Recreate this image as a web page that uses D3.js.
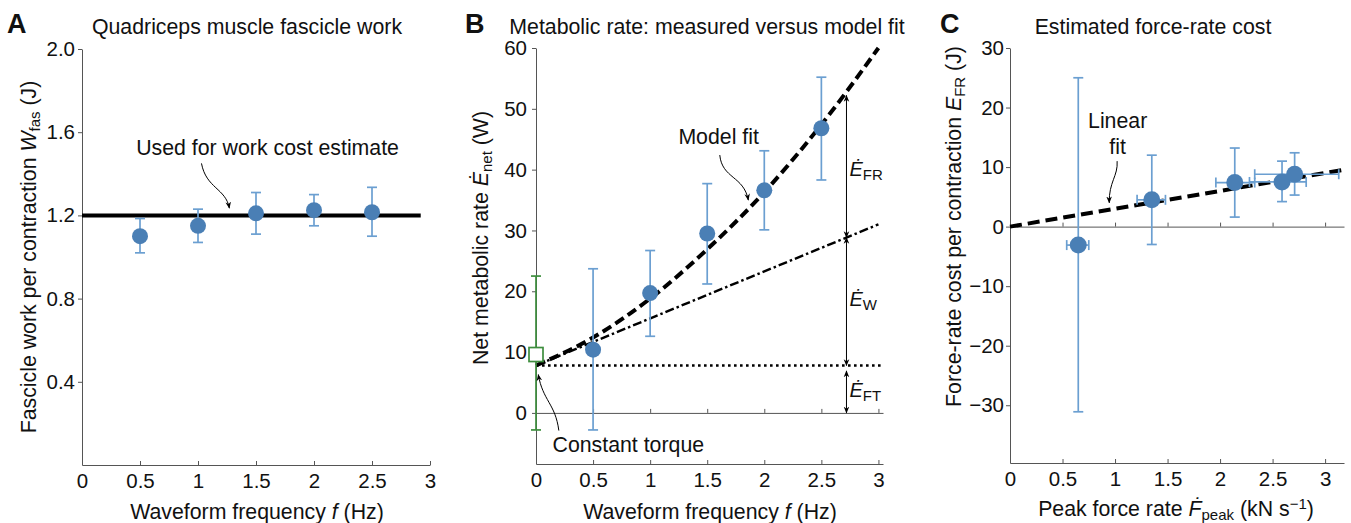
<!DOCTYPE html>
<html>
<head>
<meta charset="utf-8">
<script src="https://cdn.jsdelivr.net/npm/d3@7"></script>
<style>
  body { margin: 0; background: #fff; }
  svg text { font-family: "Liberation Sans", Arial, sans-serif; fill: #111; }
</style>
</head>
<body>
<div id="chart"></div>
<script>
// ---- panel A: fascicle work per contraction
const freqA = [0.5, 1, 1.5, 2, 2.5];
const workA = [1.10, 1.15, 1.21, 1.225, 1.215];
const workLoA = [1.02, 1.07, 1.11, 1.15, 1.10];
const workHiA = [1.185, 1.23, 1.31, 1.30, 1.335];
const workCostLevel = 1.2;
const workCostSpan = [0, 2.92];
const ticksYA = [0.4, 0.8, 1.2, 1.6, 2.0];
const ticksX = [0, 0.5, 1, 1.5, 2, 2.5, 3];

// ---- panel B: metabolic rate, measured vs model fit
const freqB = [0.5, 1, 1.5, 2, 2.5];
const metB = [10.4, 19.7, 29.5, 36.6, 46.8];
const metLoB = [-2.8, 12.6, 21.2, 30.1, 38.3];
const metHiB = [23.7, 26.7, 37.7, 43.1, 55.2];
const torqueMet = [9.6];
const torqueLo = [-2.8];
const torqueHi = [22.5];
const fitFreq = [0, 0.5, 1, 1.5, 2, 2.5, 3];
const fitModel = [7.8, 12.4, 18.8, 26.9, 36.3, 47.4, 60];
const workFreq = [0, 3];
const workLine = [7.8, 31.0];
const torqueLineSpan = [0, 3.04];
const torqueLine = 7.8;
const ticksYB = [0, 10, 20, 30, 40, 50, 60];

// ---- panel C: force-rate cost
const rateC = [0.65, 1.35, 2.14, 2.59, 2.71];
const rateLoC = [0.54, 1.21, 1.96, 2.28, 2.33];
const rateHiC = [0.75, 1.48, 2.33, 2.82, 3.13];
const costC = [-3.1, 4.5, 7.4, 7.5, 8.8];
const costLoC = [-31.1, -3.0, 1.6, 4.2, 5.3];
const costHiC = [25.0, 12.0, 13.2, 11.0, 12.4];
const linFitX = [0, 3.2];
const linFitY = [0, 9.6];
const ticksYC = [-30, -20, -10, 0, 10, 20, 30];

const dotFill = "#4a7fb5";
const errColor = "#6b9fd1";
const green = "#3e8e3e";
const axisColor = "#555";
const labelSize = 21.3;
const subSize = 15;

const svg = d3.select("#chart").append("svg")
  .attr("width", 1351).attr("height", 523);

const defs = svg.append("defs");
defs.append("marker")
  .attr("id", "head")
  .attr("viewBox", "0 0 10 10")
  .attr("refX", 9).attr("refY", 5)
  .attr("markerWidth", 7).attr("markerHeight", 7)
  .attr("markerUnits", "userSpaceOnUse")
  .attr("orient", "auto-start-reverse")
  .append("path").attr("d", "M0,1 L10,5 L0,9 L3,5 Z").attr("fill", "#000");

function styleAxis(g) {
  g.selectAll("path, line").attr("stroke", axisColor).attr("stroke-width", 1);
  g.selectAll("text").attr("font-size", 20.5).attr("fill", "#111")
    .attr("font-family", "Liberation Sans, Arial, sans-serif");
}

function fmtX(d) { return d3.format("~g")(d); }

function panelTitle(letter, lx, title, tx) {
  svg.append("text").attr("x", lx).attr("y", 33).attr("font-size", 27)
    .attr("font-weight", "bold").text(letter);
  svg.append("text").attr("x", tx).attr("y", 34).attr("font-size", labelSize)
    .attr("text-anchor", "middle").text(title);
}

function errBars(g, xs, lo, hi, x, y, color, cap) {
  xs.forEach((v, i) => {
    g.append("line").attr("x1", x(v)).attr("x2", x(v)).attr("y1", y(lo[i])).attr("y2", y(hi[i]))
      .attr("stroke", color).attr("stroke-width", 1.7);
    [lo[i], hi[i]].forEach(e => {
      g.append("line").attr("x1", x(v) - cap).attr("x2", x(v) + cap).attr("y1", y(e)).attr("y2", y(e))
        .attr("stroke", color).attr("stroke-width", 1.7);
    });
  });
}

function curvedArrow(from, mid1, mid2, to) {
  svg.append("path")
    .attr("d", `M${from[0]},${from[1]} C${mid1[0]},${mid1[1]} ${mid2[0]},${mid2[1]} ${to[0]},${to[1]}`)
    .attr("fill", "none").attr("stroke", "#000").attr("stroke-width", 1)
    .attr("marker-end", "url(#head)");
}

function freqLabel(cx) {
  svg.append("text").attr("x", cx).attr("y", 519).attr("font-size", labelSize).attr("text-anchor", "middle")
    .call(t => {
      t.append("tspan").text("Waveform frequency ");
      t.append("tspan").attr("font-style", "italic").text("f");
      t.append("tspan").text(" (Hz)");
    });
}

// ================= Panel A
(function () {
  const x = d3.scaleLinear().domain([0, 3]).range([82, 430]);
  const y = d3.scaleLinear().domain([0, 2]).range([465, 49]);

  panelTitle("A", 7, "Quadriceps muscle fascicle work", 247);

  svg.append("g").attr("transform", "translate(82,0)")
    .call(d3.axisLeft(y).tickValues(ticksYA).tickFormat(d3.format(".1f")).tickSizeInner(4).tickSizeOuter(0).tickPadding(3))
    .call(styleAxis);
  svg.append("g").attr("transform", "translate(0,465)")
    .call(d3.axisBottom(x).tickValues(ticksX).tickFormat(fmtX).tickSizeInner(-4).tickSizeOuter(0).tickPadding(8))
    .call(styleAxis);

  svg.append("line")
    .attr("x1", x(workCostSpan[0])).attr("x2", x(workCostSpan[1]))
    .attr("y1", y(workCostLevel)).attr("y2", y(workCostLevel))
    .attr("stroke", "#000").attr("stroke-width", 4);

  const g = svg.append("g");
  errBars(g, freqA, workLoA, workHiA, x, y, errColor, 5);
  g.selectAll("circle").data(freqA).join("circle")
    .attr("cx", d => x(d)).attr("cy", (d, i) => y(workA[i])).attr("r", 8).attr("fill", dotFill);

  svg.append("text").attr("x", x(1.6)).attr("y", y(1.49)).attr("font-size", labelSize)
    .attr("text-anchor", "middle").text("Used for work cost estimate");
  curvedArrow([x(1.03), y(1.45)], [x(1.07), y(1.33)], [x(1.24), y(1.33)], [x(1.27), y(1.235)]);

  svg.append("text").attr("transform", `translate(36,${(y(0) + y(2)) / 2}) rotate(-90)`)
    .attr("font-size", labelSize).attr("text-anchor", "middle")
    .call(t => {
      t.append("tspan").text("Fascicle work per contraction ");
      t.append("tspan").attr("font-style", "italic").text("W");
      t.append("tspan").attr("font-size", subSize).attr("dy", 4).text("fas");
      t.append("tspan").attr("dy", -4).text(" (J)");
    });

  freqLabel(257);
})();

// ================= Panel B
(function () {
  const x = d3.scaleLinear().domain([0, 3.04]).range([536, 883]);
  const y = d3.scaleLinear().domain([-8.4, 60]).range([464, 48]);

  panelTitle("B", 465, "Metabolic rate: measured versus model fit", 707);

  svg.append("g").attr("transform", "translate(536,0)")
    .call(d3.axisLeft(y).tickValues(ticksYB).tickSizeInner(4).tickSizeOuter(0).tickPadding(5))
    .call(styleAxis);
  svg.append("g").attr("transform", "translate(0,464)")
    .call(d3.axisBottom(x).tickValues(ticksX).tickFormat(fmtX).tickSizeInner(-4).tickSizeOuter(0).tickPadding(8))
    .call(styleAxis);
  // zero reference line with ticks
  svg.append("g").attr("transform", `translate(0,${y(0)})`)
    .call(d3.axisBottom(x).tickValues(ticksX).tickFormat("").tickSizeInner(-4).tickSizeOuter(0))
    .call(styleAxis);

  // force-torque level (dotted)
  svg.append("line")
    .attr("x1", x(torqueLineSpan[0])).attr("x2", x(torqueLineSpan[1]))
    .attr("y1", y(torqueLine)).attr("y2", y(torqueLine))
    .attr("stroke", "#000").attr("stroke-width", 2.6).attr("stroke-dasharray", "2.6 3.4");

  // work line (dash-dot)
  svg.append("path")
    .datum(workFreq.map((f, i) => [f, workLine[i]]))
    .attr("d", d3.line().x(d => x(d[0])).y(d => y(d[1])))
    .attr("fill", "none").attr("stroke", "#000").attr("stroke-width", 2.4)
    .attr("stroke-dasharray", "9 3 2.5 3");

  // model fit (dashed)
  svg.append("path")
    .datum(fitFreq.map((f, i) => [f, fitModel[i]]))
    .attr("d", d3.line().curve(d3.curveMonotoneX).x(d => x(d[0])).y(d => y(d[1])))
    .attr("fill", "none").attr("stroke", "#000").attr("stroke-width", 4)
    .attr("stroke-dasharray", "10 5");

  const g = svg.append("g");
  errBars(g, [0], torqueLo, torqueHi, x, y, green, 5);
  g.append("rect").attr("x", x(0) - 7).attr("y", y(torqueMet[0]) - 7).attr("width", 14).attr("height", 14)
    .attr("fill", "#fff").attr("stroke", green).attr("stroke-width", 1.7);
  errBars(g, freqB, metLoB, metHiB, x, y, errColor, 5);
  g.selectAll("circle").data(freqB).join("circle")
    .attr("cx", d => x(d)).attr("cy", (d, i) => y(metB[i])).attr("r", 8).attr("fill", dotFill);

  // decomposition arrows at f = 2.72
  const fa = 2.72;
  const wAt = workLine[0] + (workLine[1] - workLine[0]) * fa / 3;
  const segs = [[0, torqueLine - 0.9], [torqueLine, wAt], [wAt, 52.2]];
  segs.forEach(s => {
    svg.append("line").attr("x1", x(fa)).attr("x2", x(fa)).attr("y1", y(s[0])).attr("y2", y(s[1]))
      .attr("stroke", "#000").attr("stroke-width", 1)
      .attr("marker-start", "url(#head)").attr("marker-end", "url(#head)");
  });
  const lbls = [["FR", 39], ["W", 17.6], ["FT", 2.6]];
  lbls.forEach(l => {
    svg.append("text").attr("x", x(fa) + 3).attr("y", y(l[1])).attr("font-size", 20)
      .call(t => {
        t.append("tspan").attr("font-style", "italic").text("Ė");
        t.append("tspan").attr("font-size", subSize).attr("dy", 4).text(l[0]);
      });
  });

  svg.append("text").attr("x", x(1.6)).attr("y", y(44.2)).attr("font-size", labelSize)
    .attr("text-anchor", "middle").text("Model fit");
  curvedArrow([x(1.61), y(42.4)], [x(1.63), y(38.5)], [x(1.82), y(39)], [x(1.86), y(35)]);

  svg.append("text").attr("x", x(0.145)).attr("y", y(-6.4)).attr("font-size", labelSize).text("Constant torque");
  curvedArrow([x(0.2), y(-2.9)], [x(0.17), y(1.5)], [x(0.06), y(2)], [x(0.02), y(6.3)]);

  svg.append("text").attr("transform", `translate(488,${(y(-8.4) + y(60)) / 2 - 18}) rotate(-90)`)
    .attr("font-size", labelSize).attr("text-anchor", "middle")
    .call(t => {
      t.append("tspan").text("Net metabolic rate ");
      t.append("tspan").attr("font-style", "italic").text("Ė");
      t.append("tspan").attr("font-size", subSize).attr("dy", 4).text("net");
      t.append("tspan").attr("dy", -4).text(" (W)");
    });

  freqLabel(710);
})();

// ================= Panel C
(function () {
  const x = d3.scaleLinear().domain([0, 3.18]).range([1010, 1344]);
  const y = d3.scaleLinear().domain([-39.7, 30]).range([463, 48]);

  panelTitle("C", 940, "Estimated force-rate cost", 1153);

  svg.append("g").attr("transform", "translate(1010,0)")
    .call(d3.axisLeft(y).tickValues(ticksYC).tickSizeInner(4).tickSizeOuter(0).tickPadding(2))
    .call(styleAxis);
  svg.append("g").attr("transform", "translate(0,463)")
    .call(d3.axisBottom(x).tickValues(ticksX).tickFormat(fmtX).tickSizeInner(-4).tickSizeOuter(0).tickPadding(8))
    .call(styleAxis);
  svg.append("g").attr("transform", `translate(0,${y(0)})`)
    .call(d3.axisBottom(x).tickValues(ticksX.slice(1)).tickFormat("").tickSizeInner(-4).tickSizeOuter(0))
    .call(styleAxis);

  svg.append("path")
    .datum(linFitX.map((v, i) => [v, linFitY[i]]))
    .attr("d", d3.line().x(d => x(d[0])).y(d => y(d[1])))
    .attr("fill", "none").attr("stroke", "#000").attr("stroke-width", 4)
    .attr("stroke-dasharray", "12 6");

  const g = svg.append("g");
  errBars(g, rateC, costLoC, costHiC, x, y, errColor, 5);
  rateC.forEach((v, i) => {
    const cy = y(costC[i]);
    g.append("line").attr("x1", x(rateLoC[i])).attr("x2", x(rateHiC[i])).attr("y1", cy).attr("y2", cy)
      .attr("stroke", errColor).attr("stroke-width", 1.7);
    [rateLoC[i], rateHiC[i]].forEach(e => {
      g.append("line").attr("x1", x(e)).attr("x2", x(e)).attr("y1", cy - 5).attr("y2", cy + 5)
        .attr("stroke", errColor).attr("stroke-width", 1.7);
    });
  });
  g.selectAll("circle").data(rateC).join("circle")
    .attr("cx", d => x(d)).attr("cy", (d, i) => y(costC[i])).attr("r", 8.5).attr("fill", dotFill);

  svg.append("text").attr("x", x(1.025)).attr("y", y(16.6)).attr("font-size", labelSize)
    .attr("text-anchor", "middle").text("Linear");
  svg.append("text").attr("x", x(1.025)).attr("y", y(12.2)).attr("font-size", labelSize)
    .attr("text-anchor", "middle").text("fit");
  curvedArrow([x(1.02), y(11.0)], [x(1.03), y(8.5)], [x(0.94), y(7.5)], [x(0.945), y(4.0)]);

  svg.append("text").attr("transform", `translate(961,${(y(-39.7) + y(30)) / 2 - 29}) rotate(-90)`)
    .attr("font-size", labelSize).attr("text-anchor", "middle")
    .call(t => {
      t.append("tspan").text("Force-rate cost per contraction ");
      t.append("tspan").attr("font-style", "italic").text("E");
      t.append("tspan").attr("font-size", subSize).attr("dy", 4).text("FR");
      t.append("tspan").attr("dy", -4).text(" (J)");
    });

  svg.append("text").attr("x", 1176).attr("y", 516).attr("font-size", labelSize).attr("text-anchor", "middle")
    .call(t => {
      t.append("tspan").text("Peak force rate ");
      t.append("tspan").attr("font-style", "italic").text("Ḟ");
      t.append("tspan").attr("font-size", subSize).attr("dy", 4).text("peak");
      t.append("tspan").attr("dy", -4).text(" (kN s");
      t.append("tspan").attr("font-size", subSize).attr("dy", -7).text("−1");
      t.append("tspan").attr("dy", 7).text(")");
    });
})();
</script>
</body>
</html>
